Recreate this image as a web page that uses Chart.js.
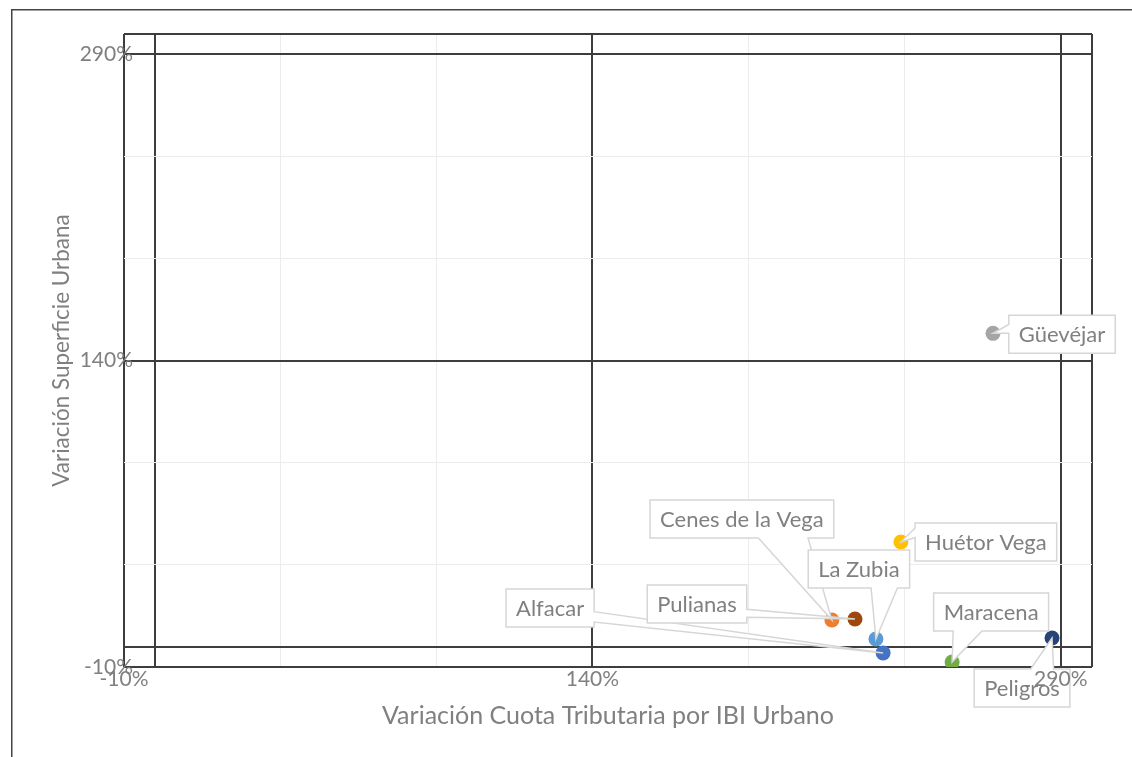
<!DOCTYPE html>
<html><head><meta charset="utf-8">
<script src="https://cdn.jsdelivr.net/npm/chart.js@4/dist/chart.umd.min.js"></script>
<style>html,body{margin:0;padding:0;background:#fff}#wrap{width:1132px;height:757px;position:relative}</style>
</head><body><div id="wrap"><canvas id="c" width="1132" height="757"></canvas></div>
<script>
// ---- data ----
const municipios = ['Alfacar', 'Cenes de la Vega', 'Pulianas', 'La Zubia', 'Huétor Vega', 'Maracena', 'Peligros', 'Güevéjar'];
const variacionCuota = [233.1, 216.7, 224.1, 230.8, 238.8, 255.2, 287.2, 268.3];
const variacionSuperficie = [-3.1, 13.0, 13.5, 3.7, 51.2, -7.6, 4.2, 153.4];
const xTickValues = [-10, 0, 40, 90, 140, 190, 240, 290, 300];
const yTickValues = [-10, 0, 40, 90, 140, 190, 240, 290, 300];
const labeledTicks = [-10, 140, 290];
const darkLines = [-10, 0, 140, 290, 300];

// ---- styles / layout ----
const pointColors = ['#4472C4', '#ED7D31', '#9E480E', '#5B9BD5', '#FFC000', '#70AD47', '#264478', '#A5A5A5'];
const calloutLayout = [
  {dx: -333, dy: -45, side: 'right', a: 0.60, b: 0.87},
  {dx: -90, dy: -101, side: 'bottom', a: 0.59, b: 0.86},
  {dx: -158, dy: -15, side: 'right', a: 0.64, b: 0.85},
  {dx: -17, dy: -70, side: 'bottom', a: 0.62, b: 0.88},
  {dx: 85, dy: 0, side: 'left', a: 0.13, b: 0.38},
  {dx: 39, dy: -50, side: 'bottom', a: 0.17, b: 0.42},
  {dx: -30, dy: 50, side: 'top', a: 0.59, b: 0.83},
  {dx: 69, dy: 1, side: 'left', a: 0.24, b: 0.47}
];
const FONT = 'Lato';
const TEXT_COLOR = '#808080';

const framePlugin = {
  id: 'frame',
  beforeDraw(chart) {
    const ctx = chart.ctx;
    ctx.save();
    ctx.fillStyle = '#fff';
    ctx.fillRect(0, 0, chart.width, chart.height);
    ctx.strokeStyle = '#444';
    ctx.lineWidth = 1.5;
    ctx.strokeRect(11.75, 9.75, 1300, 900);
    ctx.restore();
  }
};

const calloutPlugin = {
  id: 'callouts',
  afterDatasetsDraw(chart) {
    const ctx = chart.ctx;
    const meta = chart.getDatasetMeta(0);
    ctx.save();
    ctx.font = '22px ' + FONT;
    meta.data.forEach((pt, i) => {
      const L = calloutLayout[i];
      const text = municipios[i];
      const w = ctx.measureText(text).width + 20;
      const h = 38;
      const cx = pt.x + L.dx, cy = pt.y + L.dy;
      const x0 = cx - w / 2, x1 = cx + w / 2, y0 = cy - h / 2, y1 = cy + h / 2;
      const tx = pt.x, ty = pt.y;
      ctx.beginPath();
      ctx.moveTo(x0, y0);
      if (L.side === 'top') { ctx.lineTo(x0 + L.a * w, y0); ctx.lineTo(tx, ty); ctx.lineTo(x0 + L.b * w, y0); }
      ctx.lineTo(x1, y0);
      if (L.side === 'right') { ctx.lineTo(x1, y0 + L.a * h); ctx.lineTo(tx, ty); ctx.lineTo(x1, y0 + L.b * h); }
      ctx.lineTo(x1, y1);
      if (L.side === 'bottom') { ctx.lineTo(x0 + L.b * w, y1); ctx.lineTo(tx, ty); ctx.lineTo(x0 + L.a * w, y1); }
      ctx.lineTo(x0, y1);
      if (L.side === 'left') { ctx.lineTo(x0, y0 + L.b * h); ctx.lineTo(tx, ty); ctx.lineTo(x0, y0 + L.a * h); }
      ctx.closePath();
      ctx.fillStyle = '#fff';
      ctx.fill();
      ctx.strokeStyle = '#d6d6d6';
      ctx.lineWidth = 1.5;
      ctx.stroke();
      ctx.fillStyle = TEXT_COLOR;
      ctx.textAlign = 'center';
      ctx.textBaseline = 'middle';
      ctx.fillText(text, cx, cy + 1);
    });
    ctx.restore();
  }
};

const gridColor = c => darkLines.includes(c.tick.value) ? '#3d3d3d' : '#ececec';
const gridWidth = c => darkLines.includes(c.tick.value) ? 2 : 1;
const tickLabel = v => labeledTicks.includes(v) ? v + '%' : '';

new Chart(document.getElementById('c'), {
  type: 'scatter',
  data: {
    datasets: [{
      data: variacionCuota.map((x, i) => ({x: x, y: variacionSuperficie[i]})),
      pointBackgroundColor: pointColors,
      pointBorderWidth: 0,
      pointRadius: 7.5,
      pointHoverRadius: 7.5
    }]
  },
  options: {
    responsive: false,
    animation: false,
    devicePixelRatio: 1,
    layout: {padding: {left: 0, top: 34, right: 40, bottom: 0}},
    plugins: {legend: {display: false}, tooltip: {enabled: false}},
    scales: {
      x: {
        type: 'linear', min: -10, max: 300,
        afterBuildTicks: s => { s.ticks = xTickValues.map(v => ({value: v})); },
        afterFit: s => { s.height = 90; },
        grid: {color: gridColor, lineWidth: gridWidth, drawTicks: false},
        border: {display: false},
        ticks: {callback: tickLabel, autoSkip: false, maxRotation: 0, padding: 0, color: TEXT_COLOR, font: {family: FONT, size: 21}, z: 1},
        title: {display: true, text: 'Variación Cuota Tributaria por IBI Urbano', color: TEXT_COLOR, font: {family: FONT, size: 25}, padding: {top: 0, bottom: 26}}
      },
      y: {
        type: 'linear', min: -10, max: 300,
        afterBuildTicks: s => { s.ticks = yTickValues.map(v => ({value: v})); },
        afterFit: s => { s.width = 124; s._computeLabelArea = () => null; },
        grid: {color: gridColor, lineWidth: gridWidth, drawTicks: false},
        border: {display: false},
        ticks: {callback: tickLabel, autoSkip: false, padding: -9, color: TEXT_COLOR, font: {family: FONT, size: 21}},
        title: {display: true, text: 'Variación Superficie Urbana', color: TEXT_COLOR, font: {family: FONT, size: 22.5}, padding: {top: 48, bottom: 0}}
      }
    }
  },
  plugins: [framePlugin, calloutPlugin]
});
</script>
</body></html>
